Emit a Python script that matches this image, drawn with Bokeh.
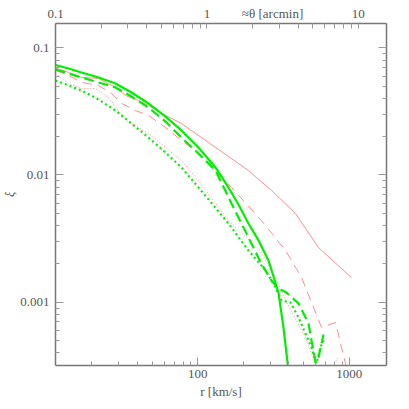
from bokeh.plotting import figure
from bokeh.models import LogAxis, Range1d, LogScale, FixedTicker, CustomJSTickFormatter
from bokeh.embed import file_html
from bokeh.resources import INLINE

# ---- data ----
r_green_solid = [11.48, 14.02, 17.06, 22.1, 28.6, 36.5, 47.2, 61.2, 78.0, 101, 131, 159.5, 185.7, 216, 252, 293, 316, 341, 368, 397]
xi_green_solid = [0.0732, 0.0688, 0.0640, 0.0584, 0.0524, 0.0445, 0.0365, 0.0288, 0.0224, 0.01645, 0.01146, 0.00798, 0.00586, 0.00416, 0.00306, 0.00213, 0.00160, 0.00119, 0.000633, 0.000291]

r_green_dash = [11.48, 14.02, 17.06, 22.1, 28.6, 36.5, 47.2, 61.2, 78.0, 101, 131, 167, 216, 263, 307, 341, 385, 463, 539, 564, 600, 627, 677]
xi_green_dash = [0.0675, 0.0628, 0.0584, 0.0534, 0.0488, 0.0414, 0.0339, 0.0263, 0.0197, 0.01476, 0.01085, 0.00597, 0.00323, 0.00201, 0.00148, 0.00128, 0.00119, 0.000977, 0.000680, 0.000500, 0.000336, 0.000368, 0.000557]

r_green_dot = [11.48, 14.02, 17.06, 22.1, 28.6, 36.5, 47.2, 61.2, 78.0, 101, 127, 159.5, 216, 280, 326, 357, 410, 463, 514, 564, 608, 646, 677]
xi_green_dot = [0.0553, 0.0505, 0.0462, 0.0392, 0.0321, 0.0254, 0.0197, 0.01503, 0.01146, 0.00798, 0.00576, 0.00416, 0.00255, 0.00178, 0.00131, 0.00103, 0.000994, 0.000758, 0.000568, 0.000441, 0.000330, 0.000441, 0.000500]

r_pink_solid = [11.48, 14.02, 17.06, 22.1, 28.6, 33.3, 40.6, 47.2, 61.2, 78.0, 131, 216, 307, 442, 627, 1036]
xi_pink_solid = [0.0694, 0.0640, 0.0584, 0.0574, 0.0488, 0.0422, 0.0385, 0.0352, 0.0294, 0.0254, 0.01645, 0.01085, 0.00755, 0.00498, 0.00269, 0.00156]

r_pink_dash = [11.48, 14.02, 17.06, 22.1, 26.96, 31.4, 38.8, 47.2, 61.2, 78.0, 101, 167, 263, 380, 485, 657, 812, 945, 989]
xi_pink_dash = [0.0663, 0.0606, 0.0534, 0.0505, 0.0437, 0.0365, 0.0321, 0.0294, 0.0236, 0.0187, 0.01476, 0.00798, 0.00439, 0.00255, 0.00156, 0.000633, 0.000692, 0.000330, 0.000265]

r_pink_dot = [11.48, 14.02, 17.06, 21.1, 25.7, 29.9, 34.8, 47.2, 78.0, 101, 159.5, 258, 326, 380, 514, 564, 627, 764, 850]
xi_pink_dot = [0.0625, 0.0524, 0.0479, 0.0479, 0.0407, 0.0321, 0.0259, 0.0212, 0.0130, 0.00905, 0.00439, 0.00255, 0.00156, 0.00103, 0.000528, 0.000395, 0.00028, 0.000301, 0.000374]

r_ticks = [100, 1000]
xi_ticks = [0.001, 0.01, 0.1]
theta_ticks = [0.1, 1, 10]
theta_title = "≈θ [arcmin]"
theta_title_pos = 2.71
r_per_arcmin = 115.0

# ---- figure ----
FONT = "Liberation Serif"
FS = "13px"
TXT = "#555555"
x0, x1 = 11.48, 1764.0
y0, y1 = 3.18e-4, 0.1552

p = figure(frame_width=331, frame_height=342, x_axis_type="log", y_axis_type="log",
           x_range=Range1d(x0, x1), y_range=Range1d(y0, y1),
           output_backend="svg", toolbar_location=None,
           min_border_left=49, min_border_right=12, min_border_top=23, min_border_bottom=38)
p.title.visible = False
p.grid.visible = False
p.outline_line_color = None
p.background_fill_color = "white"


def minors(lo, hi):
    out = []
    for e in range(lo, hi):
        for m in range(2, 10):
            out.append(m * 10.0 ** e)
    return out


fmt = CustomJSTickFormatter(code="return tick.toString();")
blank = CustomJSTickFormatter(code="return '';")


def style(ax):
    ax.axis_line_color = "#777777"
    ax.axis_line_width = 1.5
    ax.major_tick_line_color = "#999999"
    ax.minor_tick_line_color = "#999999"
    ax.major_tick_in = 8
    ax.major_tick_out = 0
    ax.minor_tick_in = 4
    ax.minor_tick_out = 0
    ax.major_label_text_font = FONT
    ax.major_label_text_font_size = FS
    ax.major_label_text_color = TXT
    ax.axis_label_text_font = FONT
    ax.axis_label_text_font_size = FS
    ax.axis_label_text_color = TXT


xa = p.xaxis[0]
xa.ticker = FixedTicker(ticks=r_ticks, minor_ticks=minors(1, 4))
xa.formatter = fmt
style(xa)
xa.axis_label = "r [km/s]"
xa.axis_label_text_font_style = "normal"
xa.major_label_standoff = 4
xa.axis_label_standoff = 3

ya = p.yaxis[0]
ya.ticker = FixedTicker(ticks=xi_ticks, minor_ticks=minors(-4, 0))
ya.formatter = fmt
style(ya)
ya.axis_label = "ξ"
ya.axis_label_text_font_style = "italic"
ya.axis_label_text_font_size = "12px"
ya.major_label_standoff = 6
ya.axis_label_standoff = 0

# top axis: angular scale, its title carried as an extra (tick-less) label
p.extra_x_ranges = {"theta": Range1d(x0 / r_per_arcmin, x1 / r_per_arcmin)}
p.extra_x_scales = {"theta": LogScale()}
top_fmt = CustomJSTickFormatter(
    args=dict(pos=theta_title_pos, title=theta_title),
    code="if (Math.abs(tick - pos) < 1e-6) { return title; } return tick.toString();")
ta = LogAxis(x_range_name="theta",
             ticker=FixedTicker(ticks=theta_ticks + [theta_title_pos],
                                minor_ticks=minors(-1, 2) + theta_ticks),
             formatter=top_fmt)
style(ta)
ta.major_tick_in = 0
ta.minor_tick_in = 5
ta.major_label_standoff = 3
p.add_layout(ta, "above")

ra = LogAxis(ticker=FixedTicker(ticks=xi_ticks, minor_ticks=minors(-4, 0)), formatter=blank)
style(ra)
ra.major_label_standoff = 0
p.add_layout(ra, "right")

PINK = "#ff8c8c"
GREEN = "#00ee00"
p.line(r_pink_solid, xi_pink_solid, line_color=PINK, line_width=1.0)
p.line(r_pink_dash, xi_pink_dash, line_color=PINK, line_width=1.0, line_dash="9 6")
p.line(r_pink_dot, xi_pink_dot, line_color=PINK, line_width=1.0, line_dash="1 2")
p.line(r_green_solid, xi_green_solid, line_color=GREEN, line_width=2.2)
p.line(r_green_dash, xi_green_dash, line_color=GREEN, line_width=2.2, line_dash="10 5")
p.line(r_green_dot, xi_green_dot, line_color=GREEN, line_width=2.2, line_dash="2 3")

open("out.html", "w").write(file_html(p, INLINE))
